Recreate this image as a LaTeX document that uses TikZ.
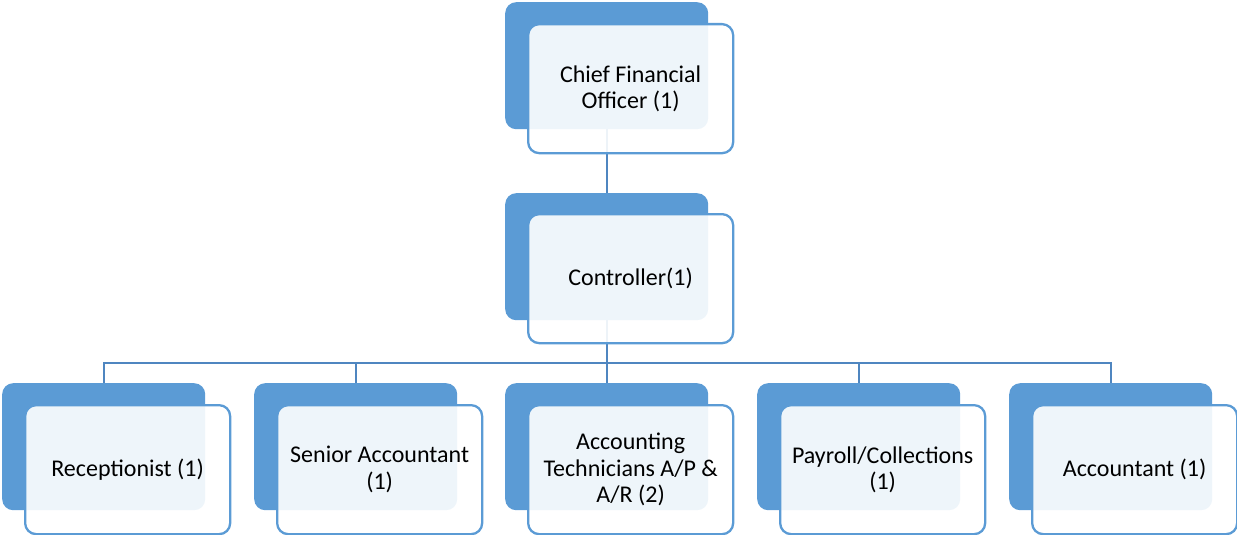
\documentclass[tikz,border=0pt]{standalone}
\usepackage{fontspec}
\setmainfont{Carlito}
\usetikzlibrary{backgrounds}
\definecolor{accent}{HTML}{5B9BD5}
\definecolor{linkcol}{HTML}{4F86C0}
\tikzset{
  backbox/.style={fill=accent, draw=none, rounded corners=11pt,
    minimum width=203pt, minimum height=127pt, inner sep=0pt, anchor=north west},
  frontbox/.style={draw=accent, line width=2.3pt, fill=white, fill opacity=0.9,
    text opacity=1, rounded corners=11pt, minimum width=205pt, minimum height=129pt,
    inner sep=0pt, anchor=north west, align=center, text=black,
    font=\fontsize{24}{26.5}\selectfont},
  link/.style={draw=linkcol, line width=2.3pt}
}
\begin{document}
\begin{tikzpicture}[x=1pt, y=-1pt]
\useasboundingbox (0,0) rectangle (1237,535);

% back (coloured) boxes
\node[backbox] (cfoB)  at (505,2)   {};
\node[backbox] (ctrlB) at (505,193) {};
\node[backbox] (recB)  at (2,383)   {};
\node[backbox] (senB)  at (254,383) {};
\node[backbox] (techB) at (505,383) {};
\node[backbox] (payB)  at (757,383) {};
\node[backbox] (accB)  at (1009,383) {};

% front (text) boxes, translucent
\node[frontbox] (cfo)  at (527,23)   {Chief Financial\\Officer (1)};
\node[frontbox] (ctrl) at (527,213)  {Controller(1)};
\node[frontbox] (rec)  at (24,404)   {Receptionist (1)};
\node[frontbox] (sen)  at (276,404)  {Senior Accountant\\(1)};
\node[frontbox] (tech) at (527,404)  {Accounting\\Technicians A/P \&\\A/R (2)};
\node[frontbox] (pay)  at (779,404)  {Payroll/Collections\\(1)};
\node[frontbox] (acc)  at (1031,404) {Accountant (1)};

% connectors, behind all boxes
\begin{scope}[on background layer]
\coordinate (bus) at (0,363);
\draw[link] (cfoB.center) -- (ctrlB.center);
\draw[link] (ctrlB.center) -- (ctrlB.center |- bus);
\draw[link] (recB.north) -- (recB.north |- bus) -- (accB.north |- bus) -- (accB.north);
\draw[link] (senB.north) -- (senB.north |- bus);
\draw[link] (techB.north) -- (techB.north |- bus);
\draw[link] (payB.north) -- (payB.north |- bus);
\end{scope}
\end{tikzpicture}
\end{document}
